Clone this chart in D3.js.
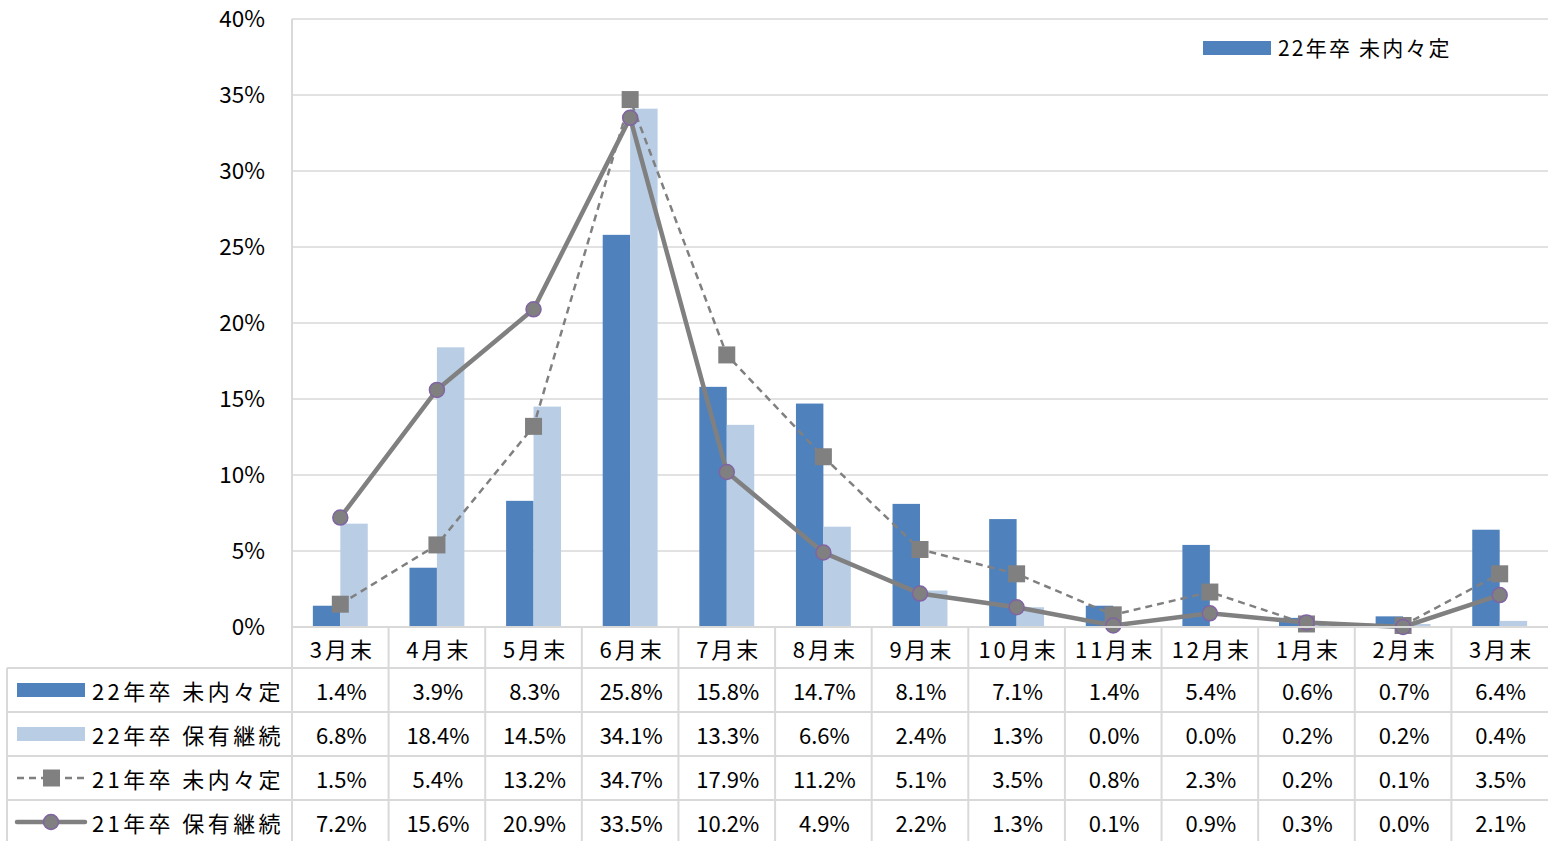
<!DOCTYPE html>
<html>
<head>
<meta charset="utf-8">
<script src="https://cdn.jsdelivr.net/npm/d3@7"></script>
<style>
  body { margin: 0; background: #fff; }
  svg { display: block; font-family: 'Noto Sans CJK JP', sans-serif; }
</style>
</head>
<body>
<script>
const months = ['3月末', '4月末', '5月末', '6月末', '7月末', '8月末', '9月末', '10月末', '11月末', '12月末', '1月末', '2月末', '3月末'];
const naitei22 = [1.4, 3.9, 8.3, 25.8, 15.8, 14.7, 8.1, 7.1, 1.4, 5.4, 0.6, 0.7, 6.4];
const keizoku22 = [6.8, 18.4, 14.5, 34.1, 13.3, 6.6, 2.4, 1.3, 0.0, 0.0, 0.2, 0.2, 0.4];
const naitei21 = [1.5, 5.4, 13.2, 34.7, 17.9, 11.2, 5.1, 3.5, 0.8, 2.3, 0.2, 0.1, 3.5];
const keizoku21 = [7.2, 15.6, 20.9, 33.5, 10.2, 4.9, 2.2, 1.3, 0.1, 0.9, 0.3, 0.0, 2.1];
const yTicks = [0, 5, 10, 15, 20, 25, 30, 35, 40];
const seriesNames = ['22年卒 未内々定', '22年卒 保有継続', '21年卒 未内々定', '21年卒 保有継続'];

const W = 1548, H = 841;
const plotLeft = 292, plotRight = 1548, plotTop = 19, plotBottom = 627;
const tableLeft = 7;
const rowH = 44;
const headerBottom = 668;

const blue = '#4F81BD', lightBlue = '#B9CDE5', gray = '#808080', purple = '#8064A2', grid = '#D9D9D9';

const svg = d3.select('body').append('svg')
  .attr('width', W)
  .attr('height', H);

const idx = d3.range(months.length);

const x = d3.scaleBand()
  .domain(idx)
  .range([plotLeft, plotRight]);

const xSub = d3.scaleBand()
  .domain([0, 1])
  .range([0, x.bandwidth()])
  .paddingOuter(0.76);

const y = d3.scaleLinear()
  .domain([0, 40])
  .range([plotBottom, plotTop]);

// gridlines
svg.append('g')
  .selectAll('line')
  .data(yTicks.slice(1))
  .enter()
  .append('line')
  .attr('x1', plotLeft)
  .attr('x2', plotRight)
  .attr('y1', (d) => y(d))
  .attr('y2', (d) => y(d))
  .attr('stroke', grid)
  .attr('stroke-width', 1.5);

// y axis labels
const yAxis = d3.axisLeft(y)
  .tickValues(yTicks)
  .tickFormat((d) => d + '%')
  .tickSize(0)
  .tickPadding(27);

svg.append('g')
  .attr('transform', 'translate(' + plotLeft + ',0)')
  .call(yAxis)
  .call((g) => g.select('.domain').remove())
  .selectAll('text')
  .attr('font-size', 22.5)
  .attr('font-family', "'Noto Sans CJK JP', sans-serif")
  .attr('fill', '#000');

// bars
const barData = [naitei22, keizoku22];
const barColors = [blue, lightBlue];
barData.forEach((vals, s) => {
  svg.append('g')
    .selectAll('rect')
    .data(vals)
    .enter()
    .append('rect')
    .attr('x', (d, i) => x(i) + xSub(s))
    .attr('width', xSub.bandwidth())
    .attr('y', (d) => y(d))
    .attr('height', (d) => plotBottom - y(d))
    .attr('fill', barColors[s]);
});

// lines
const cx = (i) => x(i) + x.bandwidth() / 2;
const line = d3.line()
  .x((d, i) => cx(i))
  .y((d) => y(d));

svg.append('path')
  .datum(naitei21)
  .attr('d', line)
  .attr('fill', 'none')
  .attr('stroke', gray)
  .attr('stroke-width', 2.5)
  .attr('stroke-dasharray', '7,5');

svg.append('path')
  .datum(keizoku21)
  .attr('d', line)
  .attr('fill', 'none')
  .attr('stroke', gray)
  .attr('stroke-width', 4.5);

svg.append('g')
  .selectAll('rect')
  .data(naitei21)
  .enter()
  .append('rect')
  .attr('x', (d, i) => cx(i) - 8.5)
  .attr('y', (d) => y(d) - 8.5)
  .attr('width', 17)
  .attr('height', 17)
  .attr('fill', gray);

svg.append('g')
  .selectAll('circle')
  .data(keizoku21)
  .enter()
  .append('circle')
  .attr('cx', (d, i) => cx(i))
  .attr('cy', (d) => y(d))
  .attr('r', 7.5)
  .attr('fill', gray)
  .attr('stroke', purple)
  .attr('stroke-width', 1.5);

// data table lines
const tbl = svg.append('g').attr('stroke', grid).attr('stroke-width', 2);
tbl.append('line')
  .attr('x1', plotLeft).attr('x2', plotRight)
  .attr('y1', plotBottom).attr('y2', plotBottom);
tbl.append('line')
  .attr('x1', plotLeft).attr('x2', plotLeft)
  .attr('y1', plotTop).attr('y2', H);
tbl.append('line')
  .attr('x1', tableLeft).attr('x2', tableLeft)
  .attr('y1', headerBottom).attr('y2', H);
tbl.selectAll('.hrow')
  .data(d3.range(4))
  .enter()
  .append('line')
  .attr('x1', tableLeft).attr('x2', plotRight)
  .attr('y1', (d) => headerBottom + d * rowH)
  .attr('y2', (d) => headerBottom + d * rowH);
tbl.selectAll('.vcol')
  .data(idx.slice(1))
  .enter()
  .append('line')
  .attr('x1', (d) => x(d)).attr('x2', (d) => x(d))
  .attr('y1', plotBottom).attr('y2', H);

// category labels
const xAxis = d3.axisBottom(x)
  .tickFormat((d) => months[d])
  .tickSize(0)
  .tickPadding(0);

svg.append('g')
  .attr('transform', 'translate(0,' + plotBottom + ')')
  .call(xAxis)
  .call((g) => g.select('.domain').remove())
  .selectAll('text')
  .attr('dy', null)
  .attr('y', 21)
  .attr('x', 2)
  .attr('dominant-baseline', 'central')
  .attr('font-size', 22)
  .attr('letter-spacing', 3)
  .attr('font-family', "'Noto Sans CJK JP', sans-serif")
  .attr('fill', '#000');

// table values
const allSeries = [naitei22, keizoku22, naitei21, keizoku21];
allSeries.forEach((vals, r) => {
  const ry = headerBottom + r * rowH + rowH / 2;
  svg.append('g')
    .selectAll('text')
    .data(vals)
    .enter()
    .append('text')
    .attr('x', (d, i) => cx(i) + 1)
    .attr('y', ry)
    .attr('text-anchor', 'middle')
    .attr('dominant-baseline', 'central')
    .attr('font-size', 22)
    .text((d) => d.toFixed(1) + '%');

  svg.append('text')
    .attr('x', 92)
    .attr('y', ry)
    .attr('dominant-baseline', 'central')
    .attr('font-size', 22)
    .attr('letter-spacing', 3.4)
    .text(seriesNames[r]);

  const key = svg.append('g');
  if (r < 2) {
    key.append('rect')
      .attr('x', 17).attr('y', ry - 7)
      .attr('width', 68).attr('height', 14)
      .attr('fill', barColors[r]);
  } else if (r === 2) {
    key.append('line')
      .attr('x1', 17).attr('x2', 85)
      .attr('y1', ry).attr('y2', ry)
      .attr('stroke', gray).attr('stroke-width', 2.5)
      .attr('stroke-dasharray', '7,5');
    key.append('rect')
      .attr('x', 43).attr('y', ry - 8.5)
      .attr('width', 17).attr('height', 17)
      .attr('fill', gray);
  } else {
    key.append('line')
      .attr('x1', 17).attr('x2', 85)
      .attr('y1', ry).attr('y2', ry)
      .attr('stroke', gray).attr('stroke-width', 4.5)
      .attr('stroke-linecap', 'round');
    key.append('circle')
      .attr('cx', 51).attr('cy', ry)
      .attr('r', 7.5)
      .attr('fill', gray)
      .attr('stroke', purple)
      .attr('stroke-width', 1.5);
  }
});

// legend in plot
svg.append('rect')
  .attr('x', 1203).attr('y', 41)
  .attr('width', 68).attr('height', 14)
  .attr('fill', blue);
svg.append('text')
  .attr('x', 1278)
  .attr('y', 47)
  .attr('dominant-baseline', 'central')
  .attr('font-size', 21)
  .attr('letter-spacing', 2.2)
  .text('22年卒 未内々定');
</script>
</body>
</html>
